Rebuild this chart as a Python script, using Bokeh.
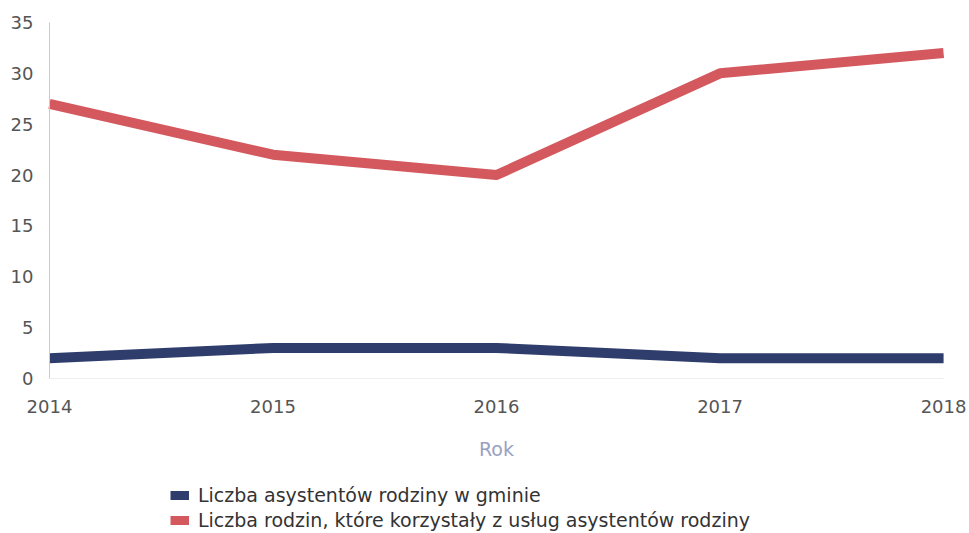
from bokeh.plotting import figure
from bokeh.models import Range1d, Legend, LegendItem, FixedTicker
from bokeh.embed import file_html
from bokeh.resources import INLINE

years = [2014, 2015, 2016, 2017, 2018]
asystenci = [2, 3, 3, 2, 2]
rodziny = [27, 22, 20, 30, 32]
y_ticks = [0, 5, 10, 15, 20, 25, 30, 35]
label_asystenci = "Liczba asystentów rodziny w gminie"
label_rodziny = "Liczba rodzin, które korzystały z usług asystentów rodziny"
x_title = "Rok"

BLUE = "#2f3d6c"
RED = "#d3595e"
FONT = "DejaVu Sans"

# the frame covers the whole canvas; axes are pinned at x=2014 and y=0
p = figure(width=969, height=533, output_backend="svg", toolbar_location=None,
           x_range=Range1d(2013.781, 2018.116), y_range=Range1d(-15.24, 37.16),
           min_border_left=0, min_border_right=0, min_border_top=0,
           min_border_bottom=0)
p.outline_line_color = None
p.xgrid.grid_line_color = None
p.ygrid.grid_line_color = None

r_blue = p.line(years, asystenci, line_width=10, line_color=BLUE, line_join="round")
r_red = p.line(years, rodziny, line_width=10, line_color=RED, line_join="round")

p.yaxis.ticker = FixedTicker(ticks=y_ticks)
p.yaxis.bounds = (0, 35)
p.yaxis.fixed_location = 2014
p.xaxis.ticker = FixedTicker(ticks=years)
p.xaxis.bounds = (2014, 2018)
p.xaxis.fixed_location = 0
for ax in (p.xaxis[0], p.yaxis[0]):
    ax.major_tick_line_color = None
    ax.minor_tick_line_color = None
    ax.major_label_text_font = FONT
    ax.major_label_text_font_size = "18px"
    ax.major_label_text_color = "#555555"
p.yaxis.axis_line_color = "#c5cadc"
p.yaxis.major_label_standoff = 10
p.xaxis.axis_line_color = "#eeeeee"
p.xaxis.major_label_standoff = 16

p.xaxis.axis_label = x_title
p.xaxis.axis_label_text_font = FONT
p.xaxis.axis_label_text_font_style = "normal"
p.xaxis.axis_label_text_font_size = "19px"
p.xaxis.axis_label_text_color = "#9aa1c2"
p.xaxis.axis_label_standoff = 21

legend = Legend(items=[LegendItem(label=label_asystenci, renderers=[r_blue]),
                       LegendItem(label=label_rodziny, renderers=[r_red])],
                location=(170, 2), orientation="vertical",
                label_text_font=FONT, label_text_font_size="19px",
                label_text_color="#333333", glyph_width=19, glyph_height=9,
                label_standoff=9, spacing=3, padding=0, margin=0,
                border_line_color=None, background_fill_alpha=0)
p.add_layout(legend, "center")

open("out.html", "w").write(file_html(p, INLINE))
